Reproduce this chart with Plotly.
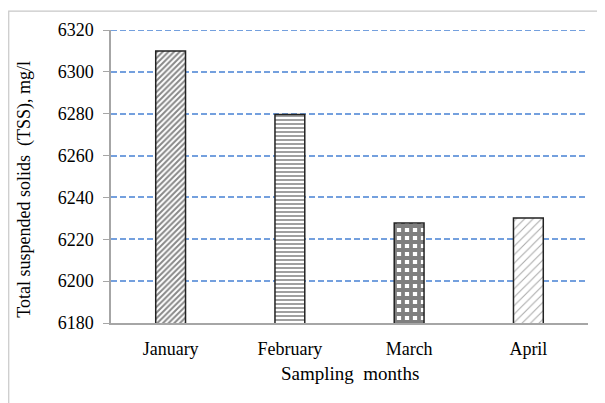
import plotly.graph_objects as go

months = ["January", "February", "March", "April"]
tss = [6310, 6279.6, 6227.8, 6230.2]
y_ticks = [6180, 6200, 6220, 6240, 6260, 6280, 6300, 6320]

shapes_pat = ["/", "-", "+", "/"]
pat_fg = ["#111111", "#111111", "#000000", "#555555"]
pat_size = [4, 4, 8, 6]
pat_sol = [0.5, 0.4, 0.72, 0.18]

font = "Liberation Serif"
grid_color = "#74a0de"

fig = go.Figure()
fig.add_trace(go.Bar(
    x=months, y=tss, width=0.25,
    marker=dict(
        color="white",
        line=dict(color="#222222", width=1.5),
        pattern=dict(shape=shapes_pat, fgcolor=pat_fg, bgcolor="white",
                     size=pat_size, solidity=pat_sol, fillmode="overlay"),
    ),
))

fig.update_layout(
    width=597, height=395,
    margin=dict(l=103, r=17, t=20, b=80),
    paper_bgcolor="white", plot_bgcolor="white",
    showlegend=False,
    font=dict(family=font, size=18, color="black"),
    xaxis=dict(showline=True, linecolor="#a6a6a6", linewidth=1.5,
               showgrid=False, ticks="", ticklabelstandoff=9,
               tickfont=dict(family=font, size=18, color="black")),
    yaxis=dict(range=[y_ticks[0], y_ticks[-1]], tickvals=y_ticks, showline=True,
               linecolor="#a6a6a6", linewidth=1.5,
               ticks="outside", ticklen=6, tickcolor="#a6a6a6",
               showgrid=True, gridcolor=grid_color, griddash="6px,3px",
               gridwidth=1.5, zeroline=False, ticklabelstandoff=6,
               tickfont=dict(family=font, size=18, color="black")),
    shapes=[
        dict(type="rect", xref="paper", yref="paper",
             x0=-0.2144, x1=1.2, y0=-0.4, y1=1.0644,
             line=dict(color="#c8c8c8", width=1.2), layer="below"),
        dict(type="line", xref="paper", yref="y", x0=0, x1=1,
             y0=y_ticks[-1], y1=y_ticks[-1],
             line=dict(color=grid_color, width=2, dash="6px,3px"), layer="below"),
    ],
    annotations=[
        dict(text="Total suspended solids\u00a0\u00a0(TSS), mg/l", xref="paper", yref="paper",
             x=-0.180, y=0.455, textangle=-90, showarrow=False,
             font=dict(family=font, size=18, color="black"),
             xanchor="center", yanchor="middle"),
        dict(text="Sampling\u00a0\u00a0months", xref="paper", yref="paper",
             x=0.5, y=-0.172, showarrow=False,
             font=dict(family=font, size=19, color="black"),
             xanchor="center", yanchor="middle"),
    ],
)
fig.write_html("out.html")
